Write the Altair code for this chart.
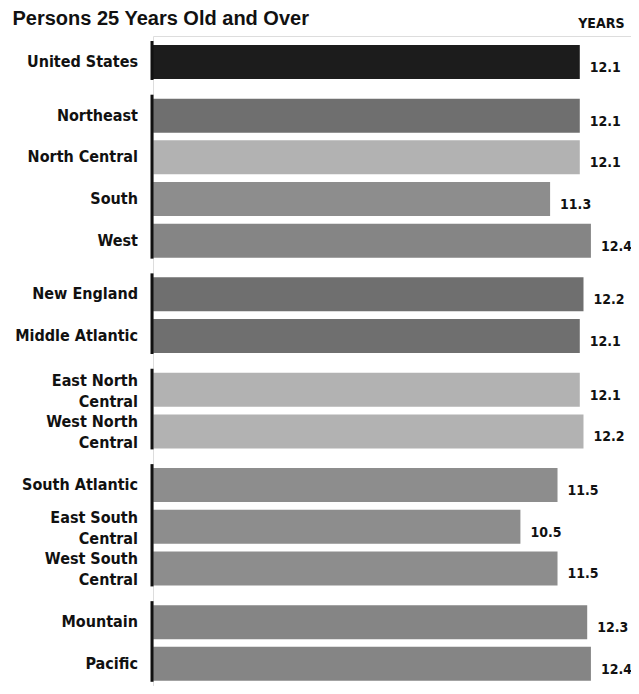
import altair as alt
import pandas as pd

# ---- data ----
names = ["United States", "Northeast", "North Central", "South", "West",
         "New England", "Middle Atlantic", "East North\nCentral", "West North\nCentral",
         "South Atlantic", "East South\nCentral", "West South\nCentral",
         "Mountain", "Pacific"]
years = [12.1, 12.1, 12.1, 11.3, 12.4, 12.2, 12.1, 12.1, 12.2, 11.5, 10.5, 11.5, 12.3, 12.4]
group = [0, 1, 1, 1, 1, 2, 2, 3, 3, 4, 4, 4, 5, 5]
shade = ["US", "Northeast", "North Central", "South", "West",
         "Northeast", "Northeast", "North Central", "North Central",
         "South", "South", "South", "West", "West"]

df = pd.DataFrame({"name": names, "years": years, "group": group, "shade": shade})
df["row"] = range(len(df))
df["pos"] = df["row"] + 0.29 * df["group"]
df["label"] = df["years"].map(lambda v: f"{v:.1f}")
df["twoline"] = df["name"].str.contains("\n")

NARROW = "DejaVu Sans Condensed"
SANS = "Liberation Sans, Arial, sans-serif"
INK = "#111111"
X0 = 0.6

xs = alt.Scale(domain=[X0, 13.48], nice=False, zero=False)
ys = alt.Scale(domain=[-0.5035, 14.863], reverse=True, nice=False, zero=False)

base = alt.Chart(df)

bars = base.mark_bar(orient="horizontal", size=34).encode(
    x=alt.X("years:Q", scale=xs,
            axis=alt.Axis(orient="top", title="YEARS", labels=False, ticks=False,
                          domain=False, grid=False, titleX=471, titleY=-13,
                          titleAlign="right", titleBaseline="middle",
                          titleFont=NARROW, titleFontSize=14, titleFontWeight="bold",
                          titleColor=INK)),
    x2=alt.datum(X0),
    y=alt.Y("pos:Q", scale=ys,
            axis=alt.Axis(orient="left", labels=False, ticks=False, domain=False,
                          grid=False, title="Persons 25 Years Old and Over",
                          titleAngle=0, titleX=-141, titleY=-18, titleAlign="left",
                          titleBaseline="middle", titleFont=SANS, titleFontSize=20,
                          titleFontWeight="bold", titleColor=INK)),
    color=alt.Color("shade:N",
                    scale=alt.Scale(domain=["US", "Northeast", "North Central", "South", "West"],
                                    range=["#1c1c1c", "#6f6f6f", "#b2b2b2", "#8d8d8d", "#858585"]),
                    legend=None),
)

rules = base.transform_aggregate(
    top="min(pos)", bottom="max(pos)", groupby=["group"]
).mark_rule(strokeWidth=3, color=INK, yOffset=-21, y2Offset=18, xOffset=-1).encode(
    x=alt.value(0),
    y=alt.Y("top:Q", scale=ys),
    y2="bottom:Q",
)

cat_style = dict(align="right", baseline="middle", dx=-15, font=NARROW,
                 fontSize=16, fontWeight="bold", color=INK)

cats_one = base.transform_filter("!datum.twoline").mark_text(**cat_style).encode(
    x=alt.value(0),
    y=alt.Y("pos:Q", scale=ys),
    text="name:N",
)

cats_two = base.transform_filter("datum.twoline").mark_text(
    dy=-9, lineBreak="\n", lineHeight=21, **cat_style
).encode(
    x=alt.value(0),
    y=alt.Y("pos:Q", scale=ys),
    text="name:N",
)

vals = base.mark_text(align="left", baseline="middle", dx=10, dy=6, font=NARROW,
                      fontSize=14, fontWeight="bold", color=INK).encode(
    x=alt.X("years:Q", scale=xs),
    y=alt.Y("pos:Q", scale=ys),
    text="label:N",
)

chart = alt.layer(bars, rules, cats_one, cats_two, vals).properties(
    width=478,
    height=650,
    autosize=alt.AutoSizeParams(type="none"),
    padding={"left": 145, "top": 28, "right": 0, "bottom": 0},
).configure_view(stroke=None).configure(background="white")

chart.save("out.html", embed_options={"renderer": "svg", "actions": False})
